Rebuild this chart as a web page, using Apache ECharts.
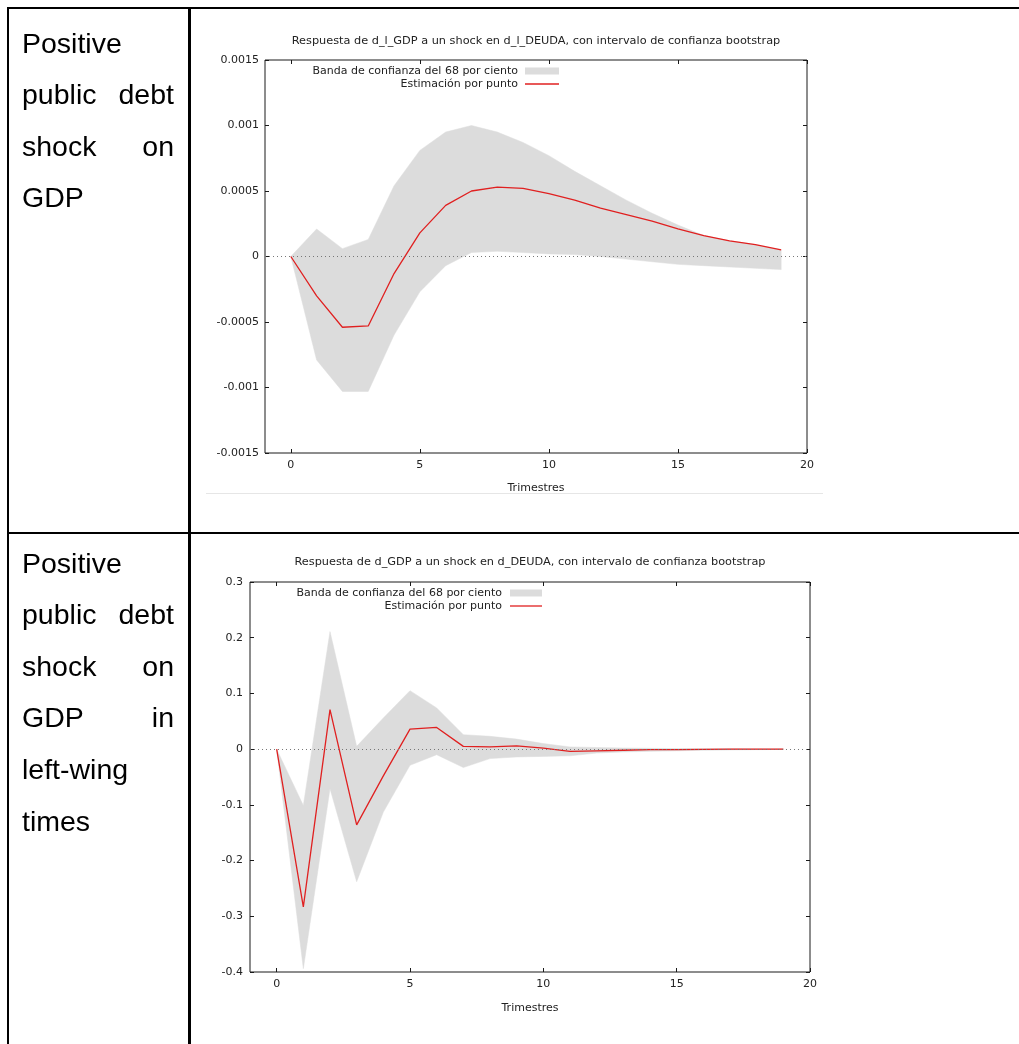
<!DOCTYPE html>
<html>
<head>
<meta charset="utf-8">
<script src="https://cdn.jsdelivr.net/npm/echarts@6/dist/echarts.min.js"></script>
<style>
  html, body { margin: 0; padding: 0; background: #fff; width: 1019px; height: 1044px; overflow: hidden; }
  #chart { position: absolute; left: 0; top: 0; width: 1019px; height: 1044px; }
  .rule { position: absolute; background: #000; }
  .cell {
    position: absolute; left: 22px; width: 152px;
    font-family: "Liberation Sans", Arial, sans-serif; font-size: 28.5px; line-height: 51.6px;
    color: #000; text-align: justify;
  }
  .nw { white-space: nowrap; }
</style>
</head>
<body>
<div id="chart"></div>

<!-- table rules -->
<div class="rule" style="left:7px; top:7px; width:1012px; height:2px;"></div>
<div class="rule" style="left:7px; top:7px; width:2px; height:1037px;"></div>
<div class="rule" style="left:188px; top:7px; width:3px; height:1037px;"></div>
<div class="rule" style="left:7px; top:532px; width:1012px; height:2px;"></div>
<div class="rule" style="left:206px; top:493px; width:617px; height:1px; background:#e6e6e6;"></div>

<div class="cell" style="top:17.6px;">Positive public debt shock on GDP</div>
<div class="cell" style="top:537.6px;">Positive public debt shock on GDP in <span class="nw">left-wing</span> times</div>

<script>
// Horizon (quarters) of the impulse responses
const quarters = [0, 1, 2, 3, 4, 5, 6, 7, 8, 9, 10, 11, 12, 13, 14, 15, 16, 17, 18, 19];

// Response of d_l_GDP to a d_l_DEUDA shock: point estimate and 68% bootstrap band
const gdpPoint = [0, -0.00030, -0.00054, -0.00053, -0.00013, 0.00018, 0.00039, 0.00050, 0.00053, 0.00052,
                  0.00048, 0.00043, 0.00037, 0.00032, 0.00027, 0.00021, 0.00016, 0.00012, 0.00009, 0.00005];
const gdpUpper = [0, 0.00021, 0.00006, 0.00013, 0.00054, 0.00081, 0.00095, 0.00100, 0.00095, 0.00087,
                  0.00077, 0.00065, 0.00054, 0.00043, 0.00033, 0.00024, 0.00016, 0.00012, 0.00009, 0.00005];
const gdpLower = [0, -0.00079, -0.00103, -0.00103, -0.00060, -0.00027, -0.00007, 0.00003, 0.00004, 0.00003,
                  0.00002, 0.000015, 0.00000, -0.00002, -0.00004, -0.00006, -0.00007, -0.00008, -0.00009, -0.00010];

// Response of d_GDP to a d_DEUDA shock (left-wing periods)
const leftPoint = [0, -0.283, 0.071, -0.136, -0.048, 0.036, 0.039, 0.005, 0.004, 0.006,
                   0.002, -0.004, -0.003, -0.002, -0.001, -0.001, -0.0005, 0, 0, 0];
const leftUpper = [0, -0.101, 0.211, 0.005, 0.056, 0.105, 0.074, 0.026, 0.023, 0.018,
                   0.010, 0.004, 0.003, 0.002, 0.0015, 0.001, 0.0008, 0.0005, 0.0003, 0.0002];
const leftLower = [0, -0.394, -0.071, -0.238, -0.113, -0.029, -0.010, -0.033, -0.017, -0.014,
                   -0.013, -0.012, -0.007, -0.005, -0.004, -0.003, -0.002, -0.0015, -0.001, -0.0005];

// Tick labels
const xTicks = [0, 5, 10, 15, 20];
const gdpYTicks = [-0.0015, -0.001, -0.0005, 0, 0.0005, 0.001, 0.0015];
const leftYTicks = [-0.4, -0.3, -0.2, -0.1, 0, 0.1, 0.2, 0.3];

// Text
const gdpTitle = 'Respuesta de d_l_GDP a un shock en d_l_DEUDA, con intervalo de confianza bootstrap';
const leftTitle = 'Respuesta de d_GDP a un shock en d_DEUDA, con intervalo de confianza bootstrap';
const bandLabel = 'Banda de confianza del 68 por ciento';
const pointLabel = 'Estimación por punto';
const xName = 'Trimestres';

const FONT = '"DejaVu Sans", Verdana, sans-serif';
const FS = 11;
const TEXT = '#222';
const FRAME = '#1a1a1a';
const BAND = '#dcdcdc';
const RED = '#e02020';

const chart = echarts.init(document.getElementById('chart'), null, { renderer: 'canvas' });

const fmt = v => String(parseFloat(Number(v).toPrecision(6)));

function xAxes(gridIndex, nameGap) {
  const tick = { show: true, inside: true, length: 4, customValues: xTicks, lineStyle: { color: FRAME } };
  return [
    {
      gridIndex, type: 'value', min: -1, max: 20, position: 'bottom',
      axisLine: { show: false, onZero: false }, splitLine: { show: false }, axisTick: tick,
      axisLabel: { customValues: xTicks, margin: 7, fontSize: FS, fontFamily: FONT, color: TEXT },
      name: xName, nameLocation: 'middle', nameGap,
      nameTextStyle: { fontSize: FS, fontFamily: FONT, color: TEXT }
    },
    {
      gridIndex, type: 'value', min: -1, max: 20, position: 'top',
      axisLine: { show: false, onZero: false }, splitLine: { show: false }, axisTick: tick,
      axisLabel: { show: false }
    }
  ];
}

function yAxes(gridIndex, ticks, margin) {
  const tick = { show: true, inside: true, length: 4, customValues: ticks, lineStyle: { color: FRAME } };
  const min = ticks[0], max = ticks[ticks.length - 1];
  return [
    {
      gridIndex, type: 'value', min, max, position: 'left',
      axisLine: { show: false, onZero: false }, splitLine: { show: false }, axisTick: tick,
      axisLabel: { customValues: ticks, formatter: fmt, margin, fontSize: FS, fontFamily: FONT, color: TEXT }
    },
    {
      gridIndex, type: 'value', min, max, position: 'right',
      axisLine: { show: false, onZero: false }, splitLine: { show: false }, axisTick: tick,
      axisLabel: { show: false }
    }
  ];
}

// Confidence band drawn as one polygon: upper edge forward, lower edge back
function bandSeries(axisIdx, upper, lower) {
  return {
    type: 'custom',
    xAxisIndex: axisIdx, yAxisIndex: axisIdx,
    data: quarters.map((q, i) => [q, upper[i], lower[i]]),
    encode: { x: 0, y: [1, 2] },
    silent: true, z: 1,
    renderItem(params, api) {
      if (params.dataIndex !== 0) return null;
      const pts = [];
      quarters.forEach((q, i) => pts.push(api.coord([q, upper[i]])));
      for (let i = quarters.length - 1; i >= 0; i--) pts.push(api.coord([quarters[i], lower[i]]));
      return { type: 'polygon', shape: { points: pts }, style: { fill: BAND, stroke: BAND, lineWidth: 0.5 } };
    }
  };
}

function pointSeries(axisIdx, values) {
  return {
    type: 'line',
    xAxisIndex: axisIdx, yAxisIndex: axisIdx,
    data: quarters.map((q, i) => [q, values[i]]),
    symbol: 'none', z: 3,
    lineStyle: { color: RED, width: 1.3 },
    markLine: {
      silent: true, symbol: 'none', label: { show: false },
      lineStyle: { color: '#777', type: [1, 3], width: 1 },
      emphasis: { disabled: true },
      data: [{ yAxis: 0 }]
    }
  };
}

function legend(rightX, y1, sampleX0, sampleX1) {
  const font = FS + 'px ' + FONT;
  return [
    { type: 'text', x: rightX, y: y1, style: { text: bandLabel, align: 'right', verticalAlign: 'middle', font, fill: TEXT } },
    { type: 'rect', shape: { x: sampleX0, y: y1 - 3.5, width: sampleX1 - sampleX0, height: 7 }, style: { fill: BAND } },
    { type: 'text', x: rightX, y: y1 + 13, style: { text: pointLabel, align: 'right', verticalAlign: 'middle', font, fill: TEXT } },
    { type: 'line', shape: { x1: sampleX0, y1: y1 + 13, x2: sampleX1, y2: y1 + 13 }, style: { stroke: RED, lineWidth: 1.3 } }
  ];
}

const titleFont = '11.3px ' + FONT;

const option = {
  animation: false,
  backgroundColor: 'transparent',
  grid: [
    { left: 265, top: 60, width: 542, height: 393, show: true, borderColor: FRAME, borderWidth: 1, backgroundColor: 'transparent' },
    { left: 250, top: 582, width: 560, height: 390, show: true, borderColor: FRAME, borderWidth: 1, backgroundColor: 'transparent' }
  ],
  xAxis: [...xAxes(0, 30), ...xAxes(1, 31)],
  yAxis: [...yAxes(0, gdpYTicks, 6), ...yAxes(1, leftYTicks, 7)],
  series: [
    bandSeries(0, gdpUpper, gdpLower),
    pointSeries(0, gdpPoint),
    bandSeries(2, leftUpper, leftLower),
    pointSeries(2, leftPoint)
  ],
  graphic: [
    { type: 'text', x: 536, y: 41, style: { text: gdpTitle, align: 'center', verticalAlign: 'middle', font: titleFont, fill: TEXT } },
    { type: 'text', x: 530, y: 562, style: { text: leftTitle, align: 'center', verticalAlign: 'middle', font: titleFont, fill: TEXT } },
    ...legend(518, 71, 525, 559),
    ...legend(502, 593, 510, 542)
  ]
};

chart.setOption(option);
</script>
</body>
</html>
